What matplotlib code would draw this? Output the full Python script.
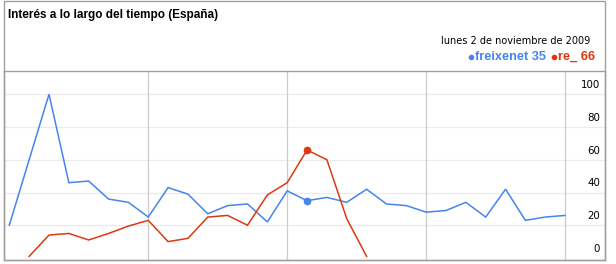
import numpy as np
import matplotlib
matplotlib.use("Agg")
import matplotlib.pyplot as plt
from matplotlib.lines import Line2D
from matplotlib.patches import Rectangle

title = "Interés a lo largo del tiempo (España)"
date_label = "lunes 2 de noviembre de 2009"
series_names = ["freixenet", "re_"]
blue_vals = [20, 60, 100, 46, 47, 36, 34, 25, 43, 39, 27, 32, 33, 22, 41,
             35, 37, 34, 42, 33, 32, 28, 29, 34, 25, 42, 23, 25, 26]
red_vals = [np.nan, 1, 14, 15, 11, 15, 19.5, 23, 10, 12, 25, 26, 20, 38.5, 46,
            66, 60, 24, 1] + [np.nan] * 10
sel_idx = 15
yticks = [0, 20, 40, 60, 80, 100]

BLUE = "#4684EE"
RED = "#DC3912"

W, H = 616, 264
fig = plt.figure(figsize=(W / 100, H / 100), dpi=100)

def fx(px):
    return px / W

def fy(py):
    return 1 - py / H

# outer frame
fig.patches.append(Rectangle((fx(4), fy(260)), fx(605) - fx(4), fy(0.5) - fy(260),
                             transform=fig.transFigure, fill=False,
                             edgecolor="#a0a0a0", linewidth=1.0))

ax = fig.add_axes([fx(4), fy(260), fx(605) - fx(4), fy(71) - fy(260)])
x = np.arange(len(blue_vals))
step = 19.85
x0px = 9.3
ax.set_xlim((4 - x0px) / step, (605 - x0px) / step)
ppu = 1.6375
ax.set_ylim(-2 / ppu, (258 - 71) / ppu)

for s in ax.spines.values():
    s.set_edgecolor("#a0a0a0")
    s.set_linewidth(1.0)
ax.set_xticks([])
ax.set_yticks([])

# horizontal gridlines
for v in yticks[1:]:
    ax.axhline(v, color="#ebebeb", lw=0.9, zorder=0)
# vertical gridlines every 7 points
for i in range(7, len(blue_vals), 7):
    ax.axvline(i, color="#cccccc", lw=0.9, zorder=0)

ax.plot(x, blue_vals, color=BLUE, lw=1.1, zorder=3, solid_joinstyle="miter")
ax.plot(x, red_vals, color=RED, lw=1.1, zorder=3, solid_joinstyle="miter")
ax.plot([sel_idx], [blue_vals[sel_idx]], "o", color=BLUE, ms=4.5, zorder=4)
ax.plot([sel_idx], [red_vals[sel_idx]], "o", color=RED, ms=4.5, zorder=4)

# y labels on the right, inside the plot
xlab = (600 - x0px) / step
for v in yticks:
    ax.text(xlab, v + 9 / ppu, str(v), ha="right", va="center",
            fontsize=7.4, family="DejaVu Sans", color="#000000")

# title
fig.text(fx(8), fy(15), title, ha="left", va="center", fontsize=8.5,
         fontweight="bold", family="Liberation Sans", color="#000000")
# date
fig.text(fx(590), fy(41), date_label, ha="right", va="center", fontsize=7.0,
         family="DejaVu Sans", color="#000000")
# legend
leg_y = fy(57)
fig.text(fx(475), leg_y, f"{series_names[0]} {int(blue_vals[sel_idx])}", ha="left",
         va="center", fontsize=9.2, fontweight="bold", family="Liberation Sans",
         color=BLUE)
fig.text(fx(558), leg_y, f"{series_names[1]} {int(red_vals[sel_idx])}", ha="left",
         va="center", fontsize=9.2, fontweight="bold", family="Liberation Sans",
         color=RED)
fig.add_artist(Line2D([fx(554)], [leg_y], marker="o", ms=3.0, color=RED,
                      transform=fig.transFigure))
fig.add_artist(Line2D([fx(471)], [leg_y], marker="o", ms=3.0, color=BLUE,
                      transform=fig.transFigure))

fig.savefig("out.png", dpi=100)
